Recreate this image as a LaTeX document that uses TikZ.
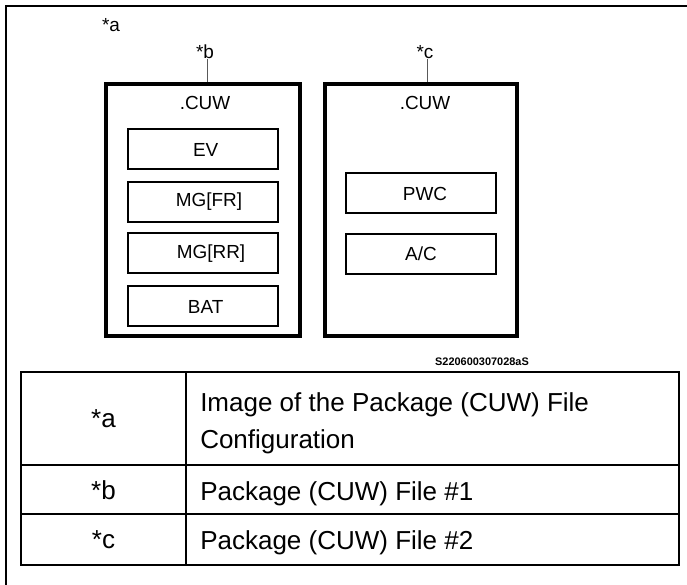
\documentclass[tikz,border=0pt]{standalone}
\usepackage{fontspec}
\setmainfont{Liberation Sans}

\begin{document}
\begin{tikzpicture}[x=0.75pt,y=-0.75pt,
  file box/.style={draw,line width=3pt,minimum width=145.5pt,minimum height=189pt,inner sep=0pt},
  part box/.style={draw,line width=1.5pt,minimum width=112.5pt,minimum height=30pt,inner sep=0pt,font=\fontsize{14.2}{16}\selectfont},
  small label/.style={inner sep=0pt,font=\fontsize{14.2}{16}\selectfont},
  table text/.style={inner sep=0pt,font=\fontsize{19.5}{27.75}\selectfont},
  table line/.style={line width=1.5pt}]

    \useasboundingbox (0,0) rectangle (687,585);

    \draw[table line] (687,6) -- (6,6) -- (6,585);

    \node[small label] (labA) at (111,25) {*a};

    \node[file box] (fileB) at (203,210.5) {};
    \node[small label] (cuwB) at (205,103) {.CUW};
    \node[part box] (ev) at (203,149.5) {\hspace*{4pt}EV};
    \node[part box] (mgfr) at (203,202) {\hspace*{9pt}MG[FR]};
    \node[part box] (mgrr) at (203,253.5) {\hspace*{12pt}MG[RR]};
    \node[part box] (bat) at (203,306.5) {\hspace*{4pt}BAT};

    \node[file box,minimum width=144pt] (fileC) at (420.5,210.5) {};
    \node[small label] (cuwC) at (425,103) {.CUW};
    \node[part box] (pwc) at (421,193.5) {\hspace*{6pt}PWC};
    \node[part box] (ac) at (421,254) {A/C};

    \node[small label] (labB) at (205,52) {*b};
    \node[small label] (labC) at (425,52) {*c};
    \draw[gray!70!black,line width=0.75pt] (labB.south) ++(2,0) coordinate (tipB) -- (tipB |- fileB.north);
    \draw[gray!70!black,line width=0.75pt] (labC.south) ++(2,0) coordinate (tipC) -- (tipC |- fileC.north);

    \node[inner sep=0pt,font=\bfseries\fontsize{8.2}{10}\selectfont] (figId) at (482,362) {S220600307028aS};

    \draw[table line] (21,372) rectangle (679,565);
    \draw[table line] (186,372) -- (186,565);
    \draw[table line] (21,465) -- (679,465);
    \draw[table line] (21,514) -- (679,514);

    \node[table text] (keyA) at (103.5,419) {*a};
    \node[table text] (keyB) at (103.5,490) {*b};
    \node[table text] (keyC) at (103.5,540) {*c};
    \node[table text,anchor=west,align=left] (textA) at (200,423) {Image of the Package (CUW) File\\Configuration};
    \node[table text,anchor=west] (textB) at (200,493.5) {Package (CUW) File \#1};
    \node[table text,anchor=west] (textC) at (200,543) {Package (CUW) File \#2};
\end{tikzpicture}
\end{document}
